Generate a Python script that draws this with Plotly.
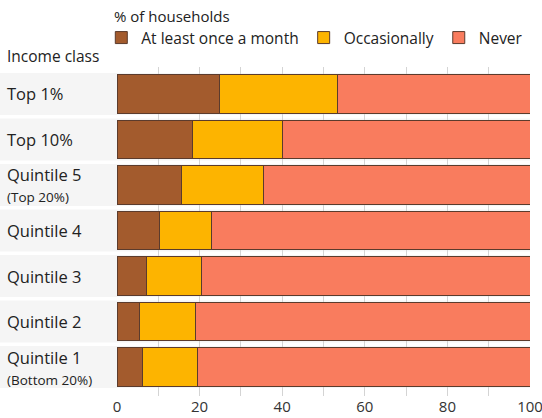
import plotly.graph_objects as go

categories = ["Top 1%", "Top 10%", "Quintile 5", "Quintile 4", "Quintile 3", "Quintile 2", "Quintile 1"]
sublabels = ["", "", "(Top 20%)", "", "", "", "(Bottom 20%)"]
monthly = [24.9, 18.2, 15.7, 10.2, 7.2, 5.4, 6.2]
occasional = [28.5, 21.8, 19.7, 12.6, 13.3, 13.5, 13.3]
never = [round(100 - m - o, 1) for m, o in zip(monthly, occasional)]
series_names = ["At least once a month", "Occasionally", "Never"]
colors = ["#a35b2d", "#fdb400", "#f97c5e"]
x_ticks = [0, 20, 40, 60, 80, 100]

FONT = "Open Sans"
fig = go.Figure()
for name, vals, col in zip(series_names, [monthly, occasional, never], colors):
    fig.add_trace(go.Bar(
        y=categories, x=vals, name=name, orientation="h",
        marker=dict(color=col, line=dict(color="#5b3b2c", width=1)),
        hoverinfo="x+y+name",
    ))

shapes = []
for i, c in enumerate(categories):
    shapes.append(dict(type="rect", xref="paper", yref="y", x0=-0.3, x1=1.0,
                       y0=i - 0.46, y1=i + 0.46, fillcolor="#f5f5f5",
                       line=dict(width=0), layer="below"))

annotations = []
for i, (c, s) in enumerate(zip(categories, sublabels)):
    txt = c if not s else f"{c}<br><span style='font-size:13.5px'>{s}</span>"
    annotations.append(dict(text=txt, x=-0.27, xref="paper", y=c, yref="y",
                            xanchor="left", yanchor="middle", align="left",
                            showarrow=False, font=dict(size=16.5, color="#222", family=FONT)))
annotations.append(dict(text="Income class", x=-0.27, xref="paper",
                        y=1 + (67 - 56) / 329, yref="paper", yanchor="middle", xanchor="left",
                        showarrow=False, font=dict(size=15.5, color="#222", family=FONT)))
annotations.append(dict(text="% of households", x=-0.012, xref="paper",
                        y=1 + (67 - 16) / 329, yref="paper", yanchor="middle", xanchor="left",
                        showarrow=False, font=dict(size=15, color="#222", family=FONT)))

fig.update_layout(
    width=542, height=418,
    margin=dict(l=117, r=12, t=67, b=22, autoexpand=False),
    paper_bgcolor="white", plot_bgcolor="white",
    barmode="stack", bargap=0.15,
    font=dict(family=FONT, size=15, color="#222"),
    showlegend=True,
    legend=dict(orientation="h", x=-0.038, xanchor="left", y=1 + (67 - 38) / 329,
                yanchor="middle", font=dict(size=15.5, color="#222", family=FONT),
                traceorder="normal", itemclick=False, bgcolor="rgba(0,0,0,0)"),
    shapes=shapes,
    annotations=annotations,
    xaxis=dict(range=[0, 100], tickvals=x_ticks, showgrid=True, gridcolor="#d4d4d4",
               gridwidth=1, zeroline=False, showline=False, ticks="", automargin=False,
               ticklabeloverflow="allow",
               minor=dict(dtick=10, showgrid=True, gridcolor="#d4d4d4", gridwidth=1),
               tickfont=dict(size=15, color="#333", family=FONT), fixedrange=True),
    yaxis=dict(range=[6.637, -0.593], showticklabels=False, showgrid=False, automargin=False,
               zeroline=False, ticks="", fixedrange=True),
)
fig.write_html("out.html")
